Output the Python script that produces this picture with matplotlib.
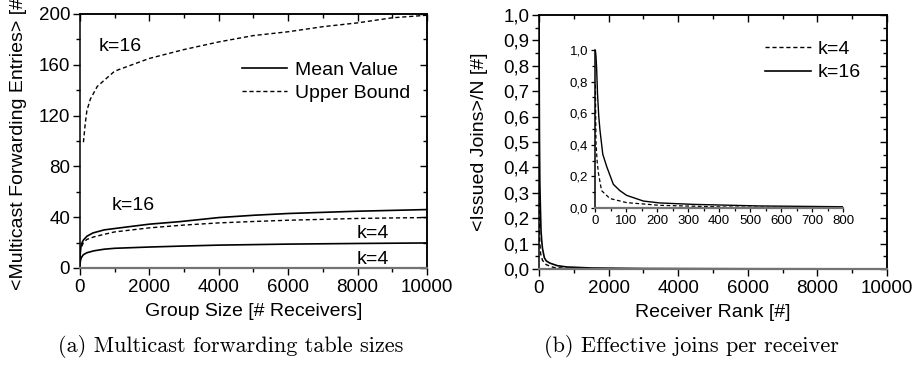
import matplotlib
matplotlib.use("Agg")
import matplotlib.pyplot as plt
from matplotlib.ticker import MultipleLocator, FuncFormatter

plt.rcParams['font.family'] = ['Liberation Sans', 'DejaVu Sans']

# ---------------- data: (a) forwarding table sizes ----------------
ub16_x = [100, 150, 200, 300, 500, 1000, 2000, 3000, 4000, 5000, 6000, 7000, 8000, 9000, 10000]
ub16_y = [99, 113, 124, 133, 143, 155, 165, 172, 178, 183, 186, 190, 193, 197, 199]

mean16_x = [0, 10, 30, 60, 100, 200, 375, 700, 1354, 2000, 2880, 4000, 5000, 6000, 8000, 10000]
mean16_y = [5, 12, 17, 20, 22, 25, 27.6, 30, 32.3, 34.5, 36.5, 39.7, 41.5, 42.9, 44.7, 46]

ub4_x = [50, 100, 200, 400, 700, 1000, 2000, 3000, 4000, 5000, 6000, 7000, 8000, 9000, 10000]
ub4_y = [17, 20, 22.5, 24.5, 26.5, 28.4, 31.6, 33.8, 35.5, 36.6, 37.6, 38.3, 39, 39.4, 39.7]

mean4_x = [0, 10, 30, 60, 100, 200, 400, 700, 1000, 2000, 3000, 4000, 6000, 8000, 10000]
mean4_y = [2, 5, 7.5, 9, 10.5, 12, 13.5, 14.8, 15.5, 16.5, 17.3, 18, 18.8, 19.3, 19.7]

# ---------------- data: (b) issued joins per receiver ----------------
rank16 = [1, 3, 5, 8, 12, 16, 25, 38, 59, 80, 102, 156, 209, 317, 531, 800, 1500, 3000, 6000, 10000]
joins16 = [1.0, 0.96, 0.89, 0.72, 0.58, 0.49, 0.34, 0.26, 0.15, 0.11, 0.08, 0.044, 0.032, 0.023, 0.013, 0.008, 0.004, 0.002, 0.001, 0.0005]

rank4 = [1, 3, 7, 11, 21, 48, 102, 209, 424, 800, 1500, 3000, 6000, 10000]
joins4 = [0.78, 0.41, 0.29, 0.22, 0.11, 0.06, 0.034, 0.017, 0.006, 0.003, 0.0015, 0.0008, 0.0004, 0.0002]

TICK_FS = 13.5
LABEL_FS = 14
DASH = (3, 2)

fig = plt.figure(figsize=(9.18, 3.65), dpi=100)


def style_axes(ax, xmaj, xmin, ymaj, ymin):
    ax.xaxis.set_major_locator(MultipleLocator(xmaj))
    ax.xaxis.set_minor_locator(MultipleLocator(xmin))
    ax.yaxis.set_major_locator(MultipleLocator(ymaj))
    ax.yaxis.set_minor_locator(MultipleLocator(ymin))
    ax.tick_params(which='major', direction='out', length=5, width=1, labelsize=TICK_FS, pad=2)
    ax.tick_params(which='minor', direction='out', length=3, width=1)
    ax.tick_params(axis='x', which='major', pad=3)
    for s in ['left', 'right', 'top']:
        ax.spines[s].set_linewidth(1.1)
    ax.spines['bottom'].set_linewidth(1.6)
    ax.spines['bottom'].set_color('0.45')
    # inward ticks on top and right
    sx = ax.secondary_xaxis('top')
    sx.xaxis.set_major_locator(MultipleLocator(xmaj))
    sx.xaxis.set_minor_locator(MultipleLocator(xmin))
    sx.tick_params(which='major', direction='in', length=5, width=1, labeltop=False)
    sx.tick_params(which='minor', direction='in', length=3, width=1)
    sx.spines['top'].set_linewidth(1.1)
    sy = ax.secondary_yaxis('right')
    sy.yaxis.set_major_locator(MultipleLocator(ymaj))
    sy.yaxis.set_minor_locator(MultipleLocator(ymin))
    sy.tick_params(which='major', direction='in', length=5, width=1, labelright=False)
    sy.tick_params(which='minor', direction='in', length=3, width=1)
    sy.spines['right'].set_linewidth(1.1)


# ---------------- (a) ----------------
ax1 = fig.add_axes([0.0871, 0.2658, 0.378, 0.6959])
ax1.plot(mean16_x, mean16_y, color='black', lw=1.2, label='Mean Value')
ax1.plot(ub16_x, ub16_y, color='black', lw=1.0, dashes=DASH, label='Upper Bound')
ax1.plot(ub4_x, ub4_y, color='black', lw=1.0, dashes=DASH)
ax1.plot(mean4_x, mean4_y, color='black', lw=1.2)
ax1.set_xlim(0, 10000)
ax1.set_ylim(0, 200)
style_axes(ax1, 2000, 1000, 40, 20)
ax1.set_xlabel('Group Size [# Receivers]', fontsize=LABEL_FS, labelpad=5)
ax1.set_ylabel('<Multicast Forwarding Entries> [#]', fontsize=LABEL_FS)
ax1.yaxis.set_label_coords(-0.153, 0.5)
ax1.text(530, 174, 'k=16', fontsize=LABEL_FS, ha='left', va='center')
ax1.text(913, 49, 'k=16', fontsize=LABEL_FS, ha='left', va='center')
ax1.text(7960, 27.5, 'k=4', fontsize=LABEL_FS, ha='left', va='center')
ax1.text(7960, 6.8, 'k=4', fontsize=LABEL_FS, ha='left', va='center')
ax1.legend(loc='upper left', bbox_to_anchor=(0.467, 0.815), frameon=False,
           fontsize=LABEL_FS, handlelength=2.3, handletextpad=0.4,
           labelspacing=0.3, borderpad=0, borderaxespad=0)

# ---------------- (b) ----------------
comma = FuncFormatter(lambda v, p: f"{v:.1f}".replace('.', ','))

ax2 = fig.add_axes([0.5871, 0.263, 0.3791, 0.696])
ax2.plot(rank4, joins4, color='black', lw=1.0, dashes=DASH, label='k=4')
ax2.plot(rank16, joins16, color='black', lw=1.2, label='k=16')
ax2.set_xlim(0, 10000)
ax2.set_ylim(0, 1.0)
style_axes(ax2, 2000, 1000, 0.1, 0.05)
ax2.yaxis.set_major_formatter(comma)
ax2.set_xlabel('Receiver Rank [#]', fontsize=LABEL_FS, labelpad=5)
ax2.set_ylabel('<Issued Joins>/N [#]', fontsize=LABEL_FS)
ax2.yaxis.set_label_coords(-0.147, 0.5)
ax2.legend(loc='upper left', bbox_to_anchor=(0.649, 0.90), frameon=False,
           fontsize=LABEL_FS, handlelength=2.4, handletextpad=0.3,
           labelspacing=0.3, borderpad=0, borderaxespad=0)

# inset
axi = fig.add_axes([0.6482, 0.4301, 0.2702, 0.4329])
axi.set_facecolor('none')
axi.plot(rank4, joins4, color='black', lw=0.9, dashes=DASH)
axi.plot(rank16, joins16, color='black', lw=1.0)
axi.set_xlim(0, 800)
axi.set_ylim(0, 1.0)
axi.spines['top'].set_visible(False)
axi.spines['right'].set_visible(False)
axi.spines['left'].set_linewidth(1.1)
axi.spines['bottom'].set_linewidth(1.6)
axi.spines['bottom'].set_color('0.45')
axi.xaxis.set_major_locator(MultipleLocator(100))
axi.xaxis.set_minor_locator(MultipleLocator(50))
axi.yaxis.set_major_locator(MultipleLocator(0.2))
axi.yaxis.set_minor_locator(MultipleLocator(0.1))
axi.yaxis.set_major_formatter(comma)
axi.tick_params(which='major', direction='out', length=3, width=0.9, labelsize=9.5, pad=2)
axi.tick_params(which='minor', direction='out', length=2, width=0.9)

# captions
fig.text(231 / 918, 1 - 347 / 365, '(a) Multicast forwarding table sizes',
         family='cmr10', fontsize=16, ha='center', va='center')
fig.text(691 / 918, 1 - 347 / 365, '(b) Effective joins per receiver',
         family='cmr10', fontsize=16, ha='center', va='center')

fig.savefig('out.png', dpi=100)
